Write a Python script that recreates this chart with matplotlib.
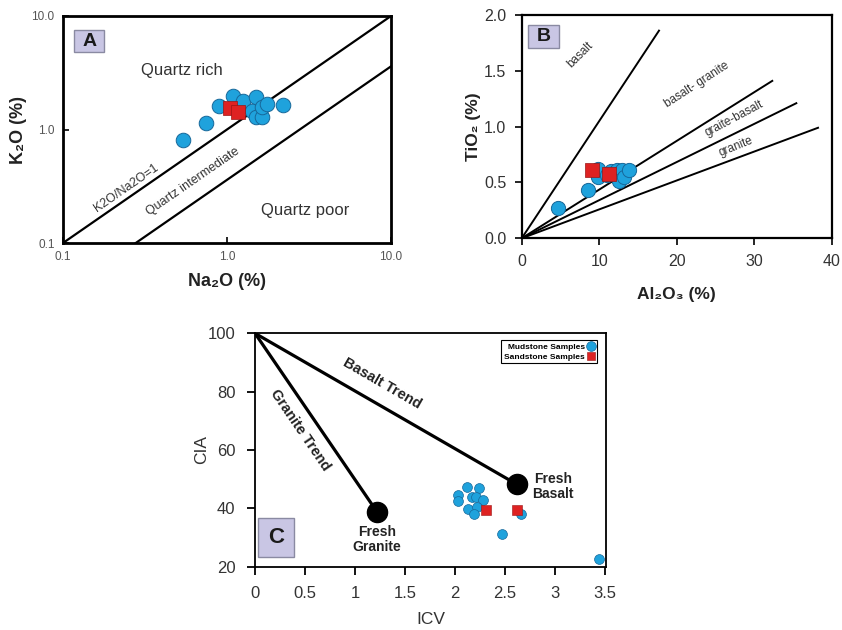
import matplotlib
matplotlib.use("Agg")
import matplotlib.pyplot as plt
from matplotlib.patches import FancyBboxPatch
from matplotlib.lines import Line2D
import numpy as np

plt.rcParams['font.family'] = ['Liberation Sans', 'DejaVu Sans']

# ---------------- Data ----------------
# Panel A: Na2O vs K2O (log-log)
a_mud_na2o = [0.54, 0.74, 0.90, 1.09, 1.26, 1.50, 1.42, 1.50, 1.63, 1.63, 1.75, 2.19]
a_mud_k2o = [0.80, 1.15, 1.62, 1.99, 1.80, 1.95, 1.47, 1.30, 1.30, 1.59, 1.68, 1.63]
a_sand_na2o = [1.04, 1.17]
a_sand_k2o = [1.54, 1.44]
a_ratio_lines = [1.0, 0.36]          # K2O/Na2O boundaries

# Panel B: Al2O3 vs TiO2
b_mud_al2o3 = [4.7, 8.5, 9.8, 9.9, 11.0, 11.5, 12.3, 12.9, 12.5, 13.2, 13.8]
b_mud_tio2 = [0.27, 0.43, 0.55, 0.62, 0.57, 0.60, 0.61, 0.61, 0.51, 0.55, 0.61]
b_sand_al2o3 = [9.05, 11.3]
b_sand_tio2 = [0.61, 0.58]
b_line_names = ['basalt', 'basalt- granite', 'graite-basalt', 'granite']
b_line_end_al2o3 = [17.7, 32.3, 35.4, 38.2]
b_line_end_tio2 = [1.86, 1.41, 1.21, 0.99]

# Panel C: ICV vs CIA
c_mud_icv = [2.12, 2.24, 2.03, 2.03, 2.17, 2.21, 2.28, 2.13, 2.22, 2.19, 2.66, 2.47, 3.44]
c_mud_cia = [47.2, 46.9, 44.5, 42.6, 44.0, 43.9, 42.9, 39.7, 40.6, 38.0, 38.0, 31.2, 22.6]
c_sand_icv = [2.31, 2.62]
c_sand_cia = [39.4, 39.4]
c_fresh_names = ['Fresh\nGranite', 'Fresh\nBasalt']
c_fresh_icv = [1.22, 2.62]
c_fresh_cia = [38.8, 48.2]
c_origin = (0.0, 100.0)

BLUE = '#1FA2DC'
BLUE_EDGE = '#17689A'
RED = '#DE2222'
RED_EDGE = '#9A1515'
BOXFACE = '#C9C6E4'
BOXEDGE = '#8A8AA2'
TXT = '#333333'

W, H = 842, 630
fig = plt.figure(figsize=(W / 100, H / 100), dpi=100)


def px_axes(left, top, right, bottom):
    return fig.add_axes([left / W, (H - bottom) / H, (right - left) / W, (bottom - top) / H])


def panel_box(ax, x0, y0, w, h, letter, fs):
    p = FancyBboxPatch((x0, y0), w, h, boxstyle='square,pad=0', transform=ax.transAxes,
                       facecolor=BOXFACE, edgecolor=BOXEDGE, lw=1.0, zorder=5)
    ax.add_patch(p)
    ax.text(x0 + w / 2, y0 + h / 2, letter, transform=ax.transAxes, ha='center', va='center',
            fontsize=fs, fontweight='bold', color='#1a1a1a', zorder=6)


# ---------------- Panel A ----------------
axA = px_axes(63, 16, 391, 243)
axA.set_xscale('log')
axA.set_yscale('log')
axA.set_xlim(0.1, 10)
axA.set_ylim(0.1, 10)
xx = np.array([0.1, 10.0])
for r in a_ratio_lines:
    axA.plot(xx, r * xx, color='black', lw=1.6, zorder=2)
axA.scatter(a_mud_na2o, a_mud_k2o, s=110, c=BLUE, edgecolors=BLUE_EDGE, linewidths=0.7, zorder=3)
axA.scatter(a_sand_na2o, a_sand_k2o, s=95, marker='s', c=RED, edgecolors=RED_EDGE, linewidths=0.5, zorder=4)
axA.set_xticks([0.1, 1, 10])
axA.set_xticklabels(['0.1', '1.0', '10.0'])
axA.set_yticks([0.1, 1, 10])
axA.set_yticklabels(['0.1', '1.0', '10.0'])
axA.minorticks_off()
axA.tick_params(direction='in', length=4, width=1.2, labelsize=8.5, labelcolor='#555555', pad=6)
for s in axA.spines.values():
    s.set_linewidth(2.0)
axA.set_xlabel('Na₂O (%)', fontsize=13, fontweight='bold', color='#222222', labelpad=7)
axA.set_ylabel('K₂O (%)', fontsize=13, fontweight='bold', color='#222222', labelpad=3)
axA.text(0.363, 0.762, 'Quartz rich', transform=axA.transAxes, ha='center', va='center', fontsize=12, color=TXT)
axA.text(0.738, 0.145, 'Quartz poor', transform=axA.transAxes, ha='center', va='center', fontsize=12, color=TXT)
axA.text(0.194, 0.241, 'K2O/Na2O=1', transform=axA.transAxes, ha='center', va='center', fontsize=9,
         color=TXT, rotation=34.7, rotation_mode='anchor')
axA.text(0.397, 0.27, 'Quartz intermediate', transform=axA.transAxes, ha='center', va='center', fontsize=9,
         color=TXT, rotation=34.7, rotation_mode='anchor')
panel_box(axA, 0.034, 0.84, 0.092, 0.097, 'A', 14)

# ---------------- Panel B ----------------
axB = px_axes(521.7, 15, 832, 238.3)
axB.set_xlim(0, 40)
axB.set_ylim(0, 2.0)
for xe, ye in zip(b_line_end_al2o3, b_line_end_tio2):
    axB.plot([0, xe], [0, ye], color='black', lw=1.4, zorder=2)
axB.scatter(b_mud_al2o3, b_mud_tio2, s=105, c=BLUE, edgecolors=BLUE_EDGE, linewidths=0.7, zorder=3)
axB.scatter(b_sand_al2o3, b_sand_tio2, s=105, marker='s', c=RED, edgecolors=RED_EDGE, linewidths=0.5, zorder=4)
axB.set_xticks([0, 10, 20, 30, 40])
axB.set_yticks([0.0, 0.5, 1.0, 1.5, 2.0])
axB.set_yticklabels(['0.0', '0.5', '1.0', '1.5', '2.0'])
axB.tick_params(direction='out', length=5, width=1.2, labelsize=11.5, labelcolor='#333333', pad=6)
for s in axB.spines.values():
    s.set_linewidth(1.6)
axB.set_xlabel('Al₂O₃ (%)', fontsize=12.5, fontweight='bold', color='#222222', labelpad=13)
axB.set_ylabel('TiO₂ (%)', fontsize=12.5, fontweight='bold', color='#222222', labelpad=2)
b_label_pos = [(0.188, 0.821, 45), (0.563, 0.687, 33), (0.684, 0.537, 28), (0.691, 0.41, 22)]
for (fx, fy, rot), t in zip(b_label_pos, b_line_names):
    axB.text(fx, fy, t, transform=axB.transAxes, ha='center', va='center', fontsize=8.5,
             color=TXT, rotation=rot, rotation_mode='anchor')
panel_box(axB, 0.021, 0.85, 0.1, 0.105, 'B', 14)

# ---------------- Panel C ----------------
axC = px_axes(255, 333.3, 606, 566.7)
axC.set_xlim(0, 3.51)
axC.set_ylim(20, 100)
for fx, fy in zip(c_fresh_icv, c_fresh_cia):
    axC.plot([c_origin[0], fx], [c_origin[1], fy], color='black', lw=2.3, zorder=2, solid_capstyle='round')
axC.scatter(c_fresh_icv, c_fresh_cia, s=210, c='black', zorder=3)
axC.scatter(c_mud_icv, c_mud_cia, s=50, c=BLUE, edgecolors=BLUE_EDGE, linewidths=0.5, zorder=3)
axC.scatter(c_sand_icv, c_sand_cia, s=48, marker='s', c=RED, edgecolors=RED_EDGE, linewidths=0.4, zorder=4)
axC.set_xticks([0, 0.5, 1, 1.5, 2, 2.5, 3, 3.5])
axC.set_xticklabels(['0', '0.5', '1', '1.5', '2', '2.5', '3', '3.5'])
axC.set_yticks([20, 40, 60, 80, 100])
axC.tick_params(direction='out', length=6, width=1.3, labelsize=12, labelcolor='#333333', pad=8)
for s in axC.spines.values():
    s.set_linewidth(1.3)
axC.set_xlabel('ICV', fontsize=12.5, color='#333333', labelpad=8)
axC.set_ylabel('CIA', fontsize=12.5, color='#333333', labelpad=-1)
axC.text(0.45, 66.8, 'Granite Trend', ha='center', va='center', fontsize=10.5, fontweight='bold',
         color='#222222', rotation=-55.7, rotation_mode='anchor')
axC.text(1.267, 82.9, 'Basalt Trend', ha='center', va='center', fontsize=10.5, fontweight='bold',
         color='#222222', rotation=-30, rotation_mode='anchor')
axC.text(1.22, 29.4, c_fresh_names[0], ha='center', va='center', fontsize=10, fontweight='bold',
         color='#222222', linespacing=1.1)
axC.text(2.98, 47.4, c_fresh_names[1], ha='center', va='center', fontsize=10, fontweight='bold',
         color='#222222', linespacing=1.1)
handles = [Line2D([], [], ls='none', marker='o', ms=7, mfc=BLUE, mec=BLUE_EDGE, mew=0.5),
           Line2D([], [], ls='none', marker='s', ms=6, mfc=RED, mec=RED_EDGE, mew=0.4)]
leg = axC.legend(handles, ['Mudstone Samples', 'Sandstone Samples'], loc='upper right',
                 bbox_to_anchor=(0.975, 0.97), markerfirst=False, fancybox=False, framealpha=1,
                 edgecolor='black', prop={'size': 6, 'weight': 'bold'}, handlelength=0.8,
                 handletextpad=0.4, borderpad=0.3, labelspacing=0.25, borderaxespad=0)
leg.get_frame().set_linewidth(0.8)
panel_box(axC, 0.009, 0.04, 0.103, 0.167, 'C', 16)

fig.savefig('out.png', dpi=100)
